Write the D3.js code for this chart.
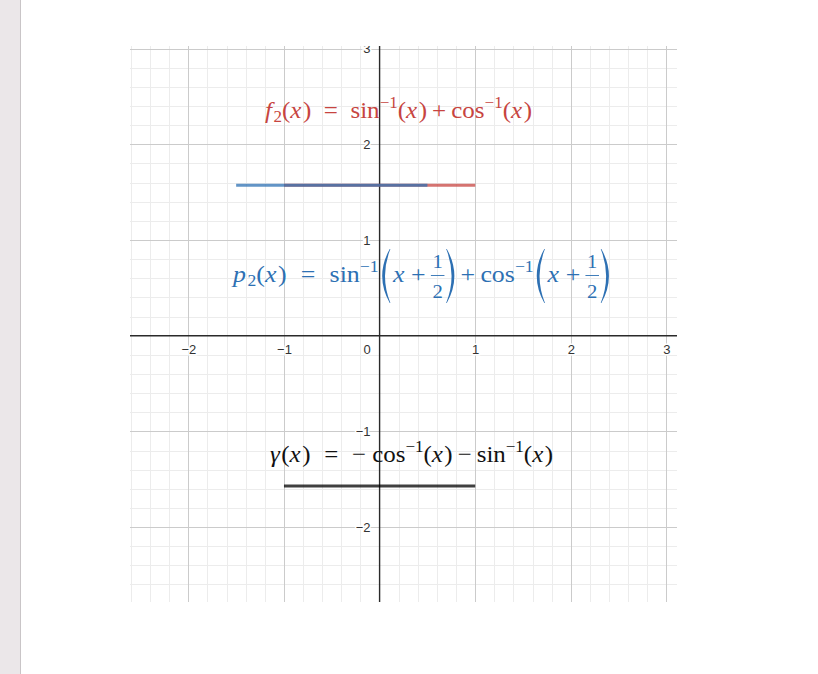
<!DOCTYPE html>
<html><head><meta charset="utf-8">
<script src="https://cdn.jsdelivr.net/npm/d3@7"></script>
<style>html,body{margin:0;padding:0;background:#fff;overflow:hidden}</style>
</head><body>
<svg id="chart" width="818" height="674"></svg>
<script>
// ---- data ----
const curveNames = ["f2", "p2", "gamma"];
const curveStarts = [-1, -1.5, -1];
const curveEnds = [1, 0.5, 1];
const curveValues = [1.5708, 1.5708, -1.5708];
const curveColors = ["#c74440", "#2d70b3", "#000000"];
const xTickValues = [-2, -1, 0, 1, 2, 3];
const yTickValues = [-2, -1, 1, 2, 3];
const xDomain = [-2.61, 3.11];
const yDomain = [-2.783, 3.027];

const svg = d3.select("#chart");
svg.append("rect").attr("x", 0).attr("y", 0).attr("width", 20).attr("height", 674).attr("fill", "#ebe7e9");
svg.append("line").attr("x1", 20.5).attr("x2", 20.5).attr("y1", 0).attr("y2", 674).attr("stroke", "#c9c5c7");

const x = d3.scaleLinear().domain(xDomain).range([130, 677]);
const y = d3.scaleLinear().domain(yDomain).range([602, 46]);

svg.append("defs").append("clipPath").attr("id", "clip")
  .append("rect").attr("x", 130).attr("y", 46).attr("width", 547).attr("height", 556);
const plot = svg.append("g").attr("clip-path", "url(#clip)");

const frac = d => Math.abs(d - Math.round(d)) > 1e-9;
const minorX = d3.range(-13, 16).map(i => i / 5).filter(v => v >= xDomain[0] && v <= xDomain[1] && frac(v));
const minorY = d3.range(-14, 16).map(i => i / 5).filter(v => v >= yDomain[0] && v <= yDomain[1] && frac(v));
const majorX = d3.range(Math.ceil(xDomain[0]), Math.floor(xDomain[1]) + 1).filter(v => v !== 0);
const majorY = d3.range(Math.ceil(yDomain[0]), Math.floor(yDomain[1]) + 1).filter(v => v !== 0);

plot.append("g").selectAll("line").data(minorX).join("line")
  .attr("x1", d => Math.round(x(d)) + 0.5).attr("x2", d => Math.round(x(d)) + 0.5)
  .attr("y1", 46).attr("y2", 602).attr("stroke", "#ececec");
plot.append("g").selectAll("line").data(minorY).join("line")
  .attr("y1", d => Math.round(y(d)) + 0.5).attr("y2", d => Math.round(y(d)) + 0.5)
  .attr("x1", 130).attr("x2", 677).attr("stroke", "#ececec");
plot.append("g").selectAll("line").data(majorX).join("line")
  .attr("x1", d => Math.round(x(d)) + 0.5).attr("x2", d => Math.round(x(d)) + 0.5)
  .attr("y1", 46).attr("y2", 602).attr("stroke", "#cbcbcb");
plot.append("g").selectAll("line").data(majorY).join("line")
  .attr("y1", d => Math.round(y(d)) + 0.5).attr("y2", d => Math.round(y(d)) + 0.5)
  .attr("x1", 130).attr("x2", 677).attr("stroke", "#cbcbcb");

// axes lines
plot.append("line").attr("x1", 130).attr("x2", 677).attr("y1", y(0)).attr("y2", y(0))
  .attr("stroke", "#2a2a2a").attr("stroke-width", 1.4);
plot.append("line").attr("x1", x(0)).attr("x2", x(0)).attr("y1", 46).attr("y2", 602)
  .attr("stroke", "#2a2a2a").attr("stroke-width", 1.4);

// tick labels
const fmt = d => d < 0 ? "\u2212" + Math.abs(d) : String(d);
const xAx = plot.append("g").attr("transform", `translate(0,${y(0)})`)
  .call(d3.axisBottom(x).tickValues(xTickValues).tickSize(0).tickPadding(9).tickFormat(fmt));
const yAx = plot.append("g").attr("transform", `translate(${x(0)},0)`)
  .call(d3.axisLeft(y).tickValues(yTickValues).tickSize(0).tickPadding(9).tickFormat(fmt));
[xAx, yAx].forEach(a => {
  a.select(".domain").remove();
  a.attr("font-family", "'Liberation Sans', Arial, sans-serif").attr("font-size", 13);
  a.selectAll(".tick text").attr("fill", "#333")
    .attr("stroke", "#fff").attr("stroke-width", 3).attr("paint-order", "stroke");
});
xAx.selectAll(".tick text").filter(d => d === 0).attr("dx", -13);

// curves
const curves = curveNames.map((n, i) => ({ n, x0: curveStarts[i], x1: curveEnds[i], v: curveValues[i], c: curveColors[i] }));
plot.append("g").selectAll("line").data(curves).join("line")
  .attr("x1", d => x(d.x0)).attr("x2", d => x(d.x1))
  .attr("y1", d => y(d.v)).attr("y2", d => y(d.v))
  .attr("stroke", d => d.c).attr("stroke-width", 3).attr("stroke-opacity", 0.75);

// math labels
function mathLabel(x0, base, targetW, color, toks) {
  const fs = 24;
  const g = svg.append("g").attr("fill", color)
    .attr("font-family", "'Liberation Serif','DejaVu Serif',serif");
  let cx = 0;
  const addText = (t, xx, yy, size, italic, anchor) => {
    const el = g.append("text").attr("x", xx).attr("y", yy).attr("font-size", size)
      .attr("font-style", italic ? "italic" : "normal").text(t);
    if (anchor) el.attr("text-anchor", anchor);
    return el;
  };
  toks.forEach(tk => {
    if (tk.gap !== undefined) { cx += tk.gap * fs; return; }
    if (tk.frac) {
      const sz = fs * 0.8;
      const n = addText(tk.frac[0], 0, -14, sz, false, "middle");
      const d = addText(tk.frac[1], 0, 16, sz, false, "middle");
      const w = Math.max(n.node().getComputedTextLength(), d.node().getComputedTextLength()) + 3;
      n.attr("x", cx + w / 2); d.attr("x", cx + w / 2);
      g.append("rect").attr("x", cx).attr("y", -7).attr("width", w).attr("height", 0.9);
      cx += w; return;
    }
    if (tk.lp || tk.rp) {
      const w = 8, top = -33, bot = 21, mid = (top + bot) / 2;
      let p;
      if (tk.lp) {
        const a = cx + w, b = cx + 1;
        p = `M${a},${top} Q${2 * b - a},${mid} ${a},${bot} L${a + 0.6},${bot} Q${2 * (b + 2.6) - (a + 0.6)},${mid} ${a + 0.6},${top} Z`;
      } else {
        const a = cx + 1, b = cx + w;
        p = `M${a},${top} Q${2 * b - a},${mid} ${a},${bot} L${a - 0.6},${bot} Q${2 * (b - 2.6) - (a - 0.6)},${mid} ${a - 0.6},${top} Z`;
      }
      g.append("path").attr("d", p);
      cx += w + 1; return;
    }
    let size = fs, yy = 0;
    if (tk.sup) { size = fs * 0.68; yy = -0.4 * fs; }
    if (tk.sub) { size = fs * 0.68; yy = 0.18 * fs; }
    const el = addText(tk.t, cx, yy, size, tk.i);
    cx += el.node().getComputedTextLength() + (tk.i ? 0.06 * fs : 0);
  });
  const k = Math.max(0.8, Math.min(1.25, targetW / cx));
  g.attr("transform", `translate(${x0},${base}) scale(${k},1)`);
}

const f2Tokens = [
  { t: "f", i: 1 }, { t: "2", sub: 1 }, { t: "(" }, { t: "x", i: 1 }, { t: ")" }, { gap: .5 }, { t: "=" }, { gap: .5 },
  { t: "sin" }, { t: "\u22121", sup: 1 }, { t: "(" }, { t: "x", i: 1 }, { t: ")" }, { gap: .2 }, { t: "+" }, { gap: .2 },
  { t: "cos" }, { t: "\u22121", sup: 1 }, { t: "(" }, { t: "x", i: 1 }, { t: ")" }
];
const p2Tokens = [
  { t: "p", i: 1 }, { t: "2", sub: 1 }, { t: "(" }, { t: "x", i: 1 }, { t: ")" }, { gap: .55 }, { t: "=" }, { gap: .55 },
  { t: "sin" }, { t: "\u22121", sup: 1 }, { gap: .1 }, { lp: 1 }, { gap: .08 }, { t: "x", i: 1 }, { gap: .2 }, { t: "+" }, { gap: .2 },
  { frac: ["1", "2"] }, { gap: .05 }, { rp: 1 }, { gap: .2 }, { t: "+" }, { gap: .2 },
  { t: "cos" }, { t: "\u22121", sup: 1 }, { gap: .08 }, { lp: 1 }, { gap: .08 }, { t: "x", i: 1 }, { gap: .2 }, { t: "+" }, { gap: .2 },
  { frac: ["1", "2"] }, { gap: .05 }, { rp: 1 }
];
const gTokens = [
  { t: "\u03B3", i: 1 }, { t: "(" }, { t: "x", i: 1 }, { t: ")" }, { gap: .55 }, { t: "=" }, { gap: .55 },
  { t: "\u2212" }, { gap: .25 }, { t: "cos" }, { t: "\u22121", sup: 1 }, { t: "(" }, { t: "x", i: 1 }, { t: ")" },
  { gap: .2 }, { t: "\u2212" }, { gap: .2 },
  { t: "sin" }, { t: "\u22121", sup: 1 }, { t: "(" }, { t: "x", i: 1 }, { t: ")" }
];
mathLabel(265, 118, 267, "#c74440", f2Tokens);
mathLabel(233, 282, 377, "#2d70b3", p2Tokens);
mathLabel(270, 462, 283, "#111111", gTokens);
</script>
</body></html>
